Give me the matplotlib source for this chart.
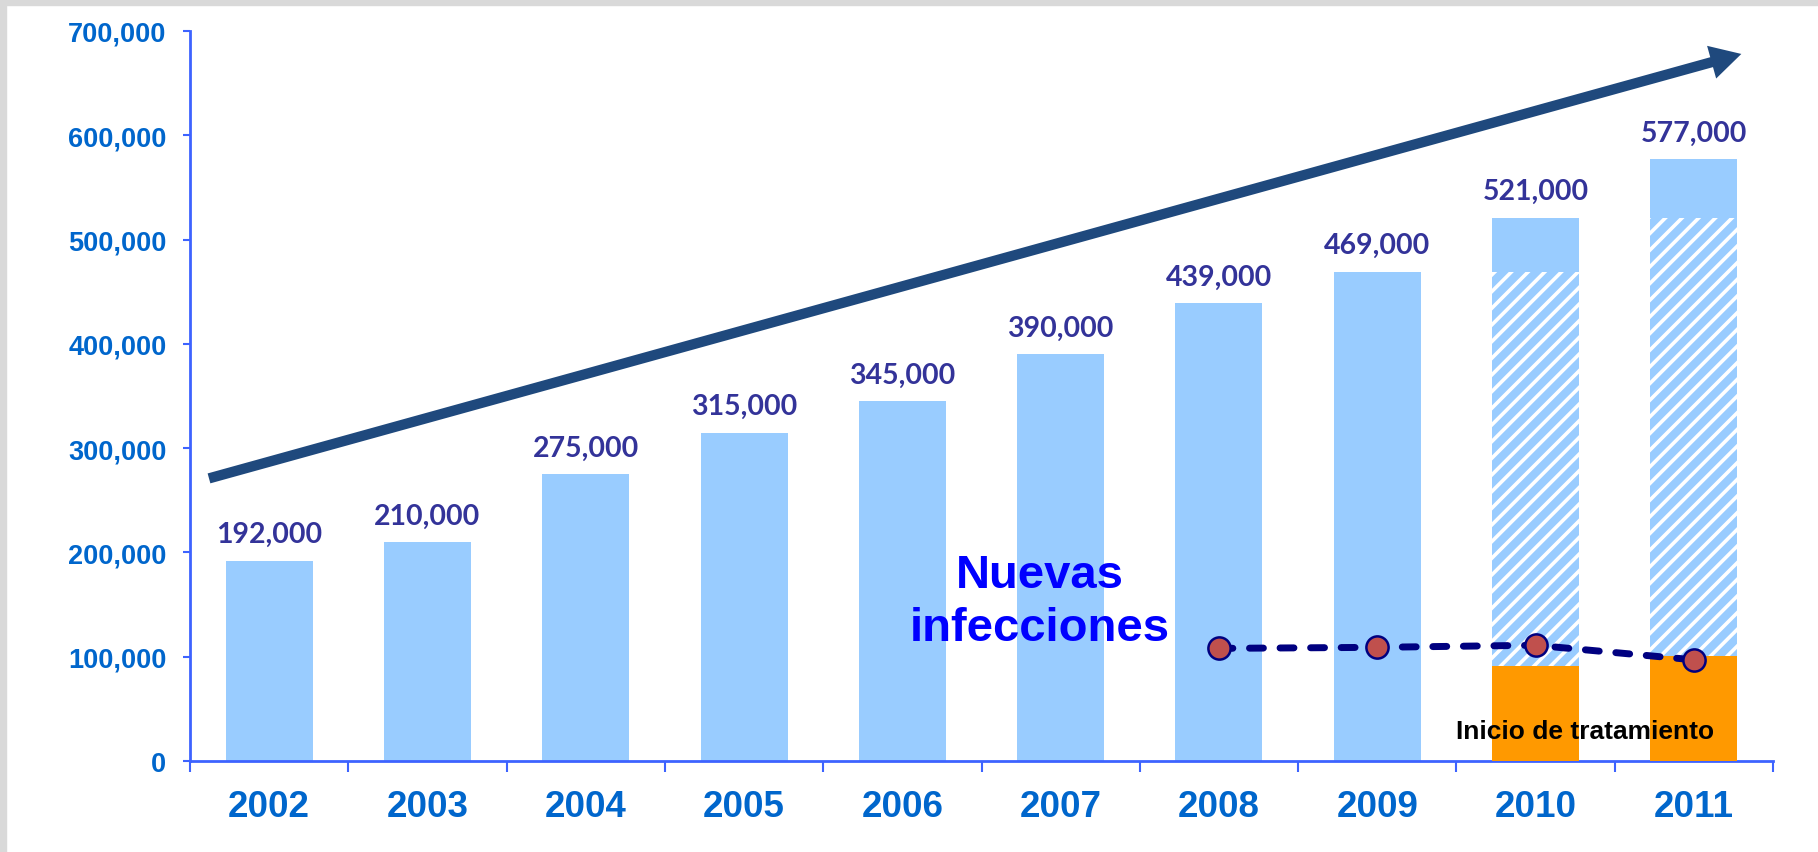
"""Bar chart: personas en tratamiento 2002-2011 con nuevas infecciones."""
import matplotlib

matplotlib.use("Agg")
import matplotlib.pyplot as plt
import numpy as np
from matplotlib.patches import Rectangle
from matplotlib.ticker import FuncFormatter

# ---------------------------------------------------------------------------
# Data
# ---------------------------------------------------------------------------
YEARS = ["2002", "2003", "2004", "2005", "2006", "2007", "2008", "2009", "2010", "2011"]
TOTALS = [192000, 210000, 275000, 315000, 345000, 390000, 439000, 469000, 521000, 577000]

# last two years split into: treatment start (orange), carried over (hatched), new (solid)
SPLIT_YEARS = ["2010", "2011"]
TREAT_START = [91000, 101000]
CARRIED_TOP = [469000, 521000]

INFECT_YEARS = ["2008", "2009", "2010", "2011"]
NEW_INFECTIONS = [108000, 109000, 111000, 97000]

# colours
BAR_BLUE = "#99CCFF"
ORANGE = "#FF9900"
AXIS_BLUE = "#3D63FF"
TICK_BLUE = "#0066CC"
LABEL_NAVY = "#333399"
ARROW_BLUE = "#1F497D"
LINE_NAVY = "#000080"
MARKER_RED = "#C0504D"

plt.rcParams["hatch.linewidth"] = 2.6
plt.rcParams["font.family"] = ["Liberation Sans", "DejaVu Sans"]

fig = plt.figure(figsize=(18.18, 8.53), dpi=100, facecolor="white")
ax = fig.add_axes([190 / 1818, 1 - 762 / 853, (1773 - 190) / 1818, (762 - 32) / 853])

x = np.arange(len(YEARS))
width = 0.55
split_idx = [YEARS.index(y) for y in SPLIT_YEARS]

# plain bars for all years (the split ones get overdrawn below)
ax.bar(x, TOTALS, width, color=BAR_BLUE, linewidth=0, zorder=2)

# split bars: hatched middle + orange base
for i, base, top in zip(split_idx, TREAT_START, CARRIED_TOP):
    ax.bar(i, top - base, width, bottom=base, color=BAR_BLUE, edgecolor="white",
           hatch="//", linewidth=0, zorder=3)
    ax.bar(i, base, width, color=ORANGE, linewidth=0, zorder=3)

# value labels
for xi, v in zip(x, TOTALS):
    ax.text(xi, v + 13000, f"{v:,}", ha="center", va="bottom", fontsize=20.5,
            fontweight="bold", color=LABEL_NAVY, family=["Lato", "DejaVu Sans"], zorder=6)

# new infections line
ix = [YEARS.index(y) for y in INFECT_YEARS]
ax.plot(ix, NEW_INFECTIONS, color=LINE_NAVY, lw=5, linestyle=(0, (2.0, 2.4)),
        dash_capstyle="round", zorder=4)
ax.plot(ix, NEW_INFECTIONS, linestyle="none", marker="o", markersize=16,
        markerfacecolor=MARKER_RED, markeredgecolor=LINE_NAVY, markeredgewidth=1.8,
        zorder=5)

# trend arrow
ax.annotate("", xy=(9.30, 678000), xytext=(-0.38, 271000),
            arrowprops=dict(arrowstyle="simple,head_width=3.3,head_length=3.0,tail_width=1.0",
                            mutation_scale=7.4, color=ARROW_BLUE, lw=0,
                            shrinkA=0, shrinkB=0),
            zorder=6)

ax.text(4.87, 153000, "Nuevas\ninfecciones", ha="center", va="center",
        fontsize=34, fontweight="bold", color="#0000FF", linespacing=1.26, zorder=7)
ax.text(8.31, 29000, "Inicio de tratamiento", ha="center", va="center",
        fontsize=19, fontweight="bold", color="black", zorder=7)

# axes styling
ax.set_xlim(-0.5, len(YEARS) - 0.5)
ax.set_ylim(0, 700000)
for side in ("top", "right"):
    ax.spines[side].set_visible(False)
for side in ("left", "bottom"):
    ax.spines[side].set_color(AXIS_BLUE)
    ax.spines[side].set_linewidth(2)

ax.set_yticks(np.arange(0, 700001, 100000))
ax.yaxis.set_major_formatter(FuncFormatter(lambda v, _: f"{int(v):,}"))
ax.tick_params(axis="y", direction="out", length=5, width=1.5, color=AXIS_BLUE,
               labelsize=19.5, labelcolor=TICK_BLUE, pad=12)

ax.set_xticks(np.arange(-0.5, len(YEARS)), minor=False)
ax.set_xticklabels([])
ax.set_xticks(x, minor=True)
ax.set_xticklabels(YEARS, minor=True)
ax.tick_params(axis="x", which="major", direction="out", length=8, width=1.5,
               color=AXIS_BLUE)
ax.tick_params(axis="x", which="minor", length=0, labelsize=26.5, labelcolor=TICK_BLUE,
               pad=20)
for lab in ax.get_yticklabels() + ax.get_xticklabels(minor=True):
    lab.set_fontweight("bold")

# grey frame strip on the left and top of the slide
fig.patches.append(Rectangle((0, 0), 6 / 1818, 1, transform=fig.transFigure,
                             color="#D9D9D9", zorder=0))
fig.patches.append(Rectangle((0, 1 - 6 / 853), 1, 6 / 853, transform=fig.transFigure,
                             color="#D9D9D9", zorder=0))

fig.savefig("out.png", dpi=100, facecolor="white")
